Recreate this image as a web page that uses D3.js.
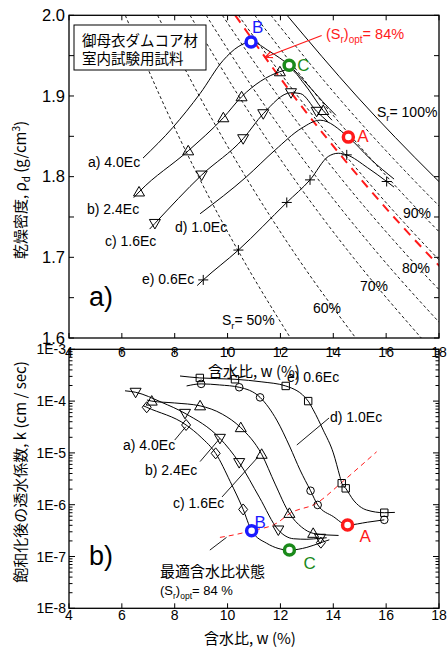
<!DOCTYPE html>
<html><head><meta charset="utf-8">
<script src="https://cdn.jsdelivr.net/npm/d3@7"></script>
<style>
body{margin:0;background:#fff}
text{font-family:"Liberation Sans",Arial,Helvetica,sans-serif;fill:#000}
.jp{font-family:"Noto Sans CJK JP","Liberation Sans",sans-serif}
</style>
</head><body><svg id="c" width="448" height="649"></svg>
<script>
// ---------------- data ----------------
const xTicks = [4, 6, 8, 10, 12, 14, 16, 18];
const rhoTicks = [1.6, 1.7, 1.8, 1.9, 2.0];
const rhoMinorTicks = [1.65, 1.75, 1.85, 1.95];
const kTicks = [1e-8, 1e-7, 1e-6, 1e-5, 1e-4, 1e-3];
const kTickLabels = ["1E-8", "1E-7", "1E-6", "1E-5", "1E-4", "1E-3"];

// degree-of-saturation contour lines: water content (%) read at these dry densities
const srRhoGrid = [2.0, 1.9, 1.8, 1.7, 1.6];
const srLevels = [50, 60, 70, 75, 80, 85, 90, 95];
const srLineW = [
  [6.13, 7.44, 8.90, 10.54, 12.38],
  [7.35, 8.93, 10.68, 12.64, 14.85],
  [8.58, 10.42, 12.46, 14.75, 17.33],
  [9.19, 11.16, 13.35, 15.81, 18.56],
  [9.80, 11.91, 14.24, 16.86, 19.80],
  [10.41, 12.65, 15.14, 17.91, 21.04],
  [11.03, 13.39, 16.03, 18.97, 22.28],
  [11.64, 14.14, 16.92, 20.02, 23.51]
];
const sr100W = [12.25, 14.88, 17.81, 21.07, 24.75];
const srOptW = [10.29, 12.50, 14.96, 17.70, 20.79];
const srLabels = ["90%", "80%", "70%", "60%"];

const curveNames = ["a) 4.0Ec", "b) 2.4Ec", "c) 1.6Ec", "d) 1.0Ec", "e) 0.6Ec"];

// top panel: compaction curves [w %, rho_d]
const topCurveA = [[6.80,1.823],[7.93,1.861],[8.96,1.903],[9.83,1.944],[10.4,1.961],[10.89,1.967],[11.6,1.955],[12.33,1.938],[13.0,1.915],[13.6,1.893],[14.1,1.876]];
const topCurveB = [[6.45,1.774],[6.65,1.781],[8.51,1.832],[9.84,1.873],[10.53,1.899],[11.98,1.930],[12.35,1.933],[12.9,1.915],[13.62,1.882],[13.95,1.870]];
const topCurveC = [[7.05,1.735],[7.25,1.742],[9.02,1.802],[10.59,1.847],[11.35,1.878],[12.40,1.904],[12.75,1.903],[13.37,1.881],[13.8,1.868]];
const topCurveD = [[8.96,1.754],[10.72,1.800],[11.8,1.833],[12.8,1.860],[13.5,1.870],[14.57,1.849],[15.4,1.822],[16.3,1.797]];
const topCurveE = [[8.85,1.665],[9.08,1.672],[10.41,1.709],[12.24,1.768],[13.12,1.796],[13.81,1.825],[14.19,1.829],[14.51,1.827],[15.3,1.811],[16.02,1.794],[16.3,1.787]];
const topMarkUp = [[6.65,1.781],[8.51,1.832],[9.84,1.873],[10.53,1.899],[11.98,1.930],[13.62,1.882]];
const topMarkDown = [[7.25,1.742],[9.02,1.802],[10.59,1.847],[11.35,1.878],[12.40,1.904],[13.37,1.881]];
const topMarkPlus = [[9.08,1.672],[10.41,1.709],[12.24,1.768],[13.12,1.796],[14.51,1.827],[16.02,1.794]];

// bottom panel: permeability after saturation [w %, k cm/sec]
const botCurveA = [[6.8,8.2e-5],[6.94,7.6e-5],[8.43,3.46e-5],[9.0,2.0e-5],[9.55,9.8e-6],[10.1,2.8e-6],[10.59,8.1e-7],[10.91,3.15e-7],[11.48,1.8e-7],[12.34,1.33e-7],[13.0,1.5e-7],[13.53,1.85e-7],[13.85,2.1e-7]];
const botCurveB = [[6.12,1.58e-4],[6.52,1.48e-4],[7.5,9.5e-5],[8.39,5.8e-5],[9.71,1.91e-5],[10.44,6.5e-6],[11.2,1.4e-6],[11.92,3.25e-7],[12.5,2.2e-7],[13.0,2.15e-7],[13.5,2.25e-7],[13.75,2.3e-7]];
const botCurveC = [[6.95,1.05e-4],[7.13,1.0e-4],[8.0,9.2e-5],[8.96,8.1e-5],[9.8,5.6e-5],[10.50,3.07e-5],[11.29,9.4e-6],[11.8,2.5e-6],[12.34,6.8e-7],[12.8,3.7e-7],[13.24,2.8e-7],[13.8,2.6e-7],[14.2,2.55e-7]];
const botCurveD = [[8.45,1.96e-4],[9.0,2.15e-4],[9.7,2.05e-4],[10.44,1.85e-4],[11.23,1.18e-4],[11.86,4.3e-5],[12.36,1.3e-5],[12.74,4.7e-6],[13.14,1.86e-6],[13.41,9.9e-7],[14.0,5.9e-7],[14.54,4.06e-7],[15.3,4.6e-7],[15.93,5.1e-7]];
const botCurveE = [[8.2,3.05e-4],[8.95,2.8e-4],[10.28,2.64e-4],[11.3,2.35e-4],[12.20,1.96e-4],[13.05,1.0e-4],[13.24,6.8e-5],[13.62,2.75e-5],[14.0,1.0e-5],[14.25,3.5e-6],[14.32,2.6e-6],[14.47,2.07e-6],[14.76,1.23e-6],[15.26,7.9e-7],[15.93,7.0e-7],[16.33,7.1e-7]];
const botMarkDiamond = [[6.94,7.6e-5],[8.43,3.46e-5],[9.55,9.8e-6],[10.59,8.1e-7],[13.53,1.85e-7]];
const botMarkDown = [[6.52,1.48e-4],[8.39,5.8e-5],[9.71,1.91e-5],[10.44,6.5e-6],[11.92,3.25e-7],[13.5,2.25e-7]];
const botMarkUp = [[7.13,1.0e-4],[8.96,8.1e-5],[10.50,3.07e-5],[11.29,9.4e-6],[12.34,6.8e-7],[13.24,2.8e-7]];
const botMarkCircle = [[9.0,2.15e-4],[10.44,1.85e-4],[11.23,1.18e-4],[13.14,1.86e-6],[13.41,9.9e-7],[15.93,5.1e-7]];
const botMarkSquare = [[8.95,2.8e-4],[10.28,2.64e-4],[12.20,1.96e-4],[13.05,1.0e-4],[14.32,2.6e-6],[14.47,2.07e-6],[15.93,7.0e-7]];
const botOptLine = [[9.71,2.34e-7],[10.22,2.6e-7],[10.91,3.15e-7],[11.86,4.4e-7],[12.36,6.8e-7],[13.37,1.07e-6],[14.25,2.5e-6],[14.55,3.4e-6],[15.64,1.05e-5]];

// optimum states A, B, C
const stateNames = ["A", "B", "C"];
const stateTopW = [14.57, 10.89, 12.33];
const stateTopRho = [1.849, 1.967, 1.938];
const stateBotW = [14.54, 10.91, 12.34];
const stateBotK = [4.06e-7, 3.15e-7, 1.33e-7];

// leader lines (data coordinates)
const topArrow = [[13.56,1.975],[11.42,1.948]];
const botLeaderA = [[8.0,1.77e-5],[8.42,3.2e-5]];
const botLeaderB = [[8.96,6.8e-6],[9.71,1.91e-5]];
const botLeaderC = [[9.79,1.41e-6],[11.15,8.3e-6]];
const botLeaderD = [[13.84,4.72e-5],[12.62,1.42e-5]];
const botLeaderOpt = [[9.33,1.33e-7],[9.96,2.34e-7]];

// ---------------- drawing ----------------
const svg = d3.select("#c");
const X0 = 69, X1 = 439;
const TT = 15.3, TB = 338, BT = 349.3, BB = 608.3;
const x = d3.scaleLinear().domain([4, 18]).range([X0, X1]);
const yT = d3.scaleLinear().domain([1.6, 2.0]).range([TB, TT]);
const yB = d3.scaleLog().domain([1e-8, 1e-3]).range([BB, BT]);
const colors = {A: "#ff1a1a", B: "#1a1aff", C: "#1a8a1a"};

const defs = svg.append("defs");
defs.append("clipPath").attr("id", "clipT").append("rect")
  .attr("x", X0).attr("y", TT).attr("width", X1 - X0).attr("height", TB - TT);
defs.append("clipPath").attr("id", "clipB").append("rect")
  .attr("x", X0).attr("y", BT).attr("width", X1 - X0).attr("height", BB - BT);
defs.append("marker").attr("id", "arrR").attr("viewBox", "0 0 10 10").attr("refX", 9).attr("refY", 5)
  .attr("markerWidth", 7).attr("markerHeight", 7).attr("orient", "auto")
  .append("path").attr("d", "M0,1 L9,5 L0,9").attr("fill", "none").attr("stroke", "#ff1a1a").attr("stroke-width", 1.4);

const lineT = d3.line().x(d => x(d[0])).y(d => yT(d[1])).curve(d3.curveMonotoneX);
const lineB = d3.line().x(d => x(d[0])).y(d => yB(d[1])).curve(d3.curveMonotoneX);
const straightT = d3.line().x(d => x(d[0])).y(d => yT(d[1]));
const straightB = d3.line().x(d => x(d[0])).y(d => yB(d[1]));

const shapes = {
  up: "M0,-5.5L5.5,4L-5.5,4Z",
  down: "M0,5.5L5.5,-4L-5.5,-4Z",
  diamond: "M0,-5.5L4.5,0L0,5.5L-4.5,0Z",
  square: "M-3.7,-3.7H3.7V3.7H-3.7Z",
  circle: "M3.8,0A3.8,3.8 0 1,1 -3.8,0A3.8,3.8 0 1,1 3.8,0Z",
  plus: "M-5,0H5M0,-5V5"
};
function markers(g, pts, shape, yS) {
  g.selectAll(null).data(pts).enter().append("path")
    .attr("d", shapes[shape])
    .attr("transform", d => `translate(${x(d[0])},${yS(d[1])})`)
    .attr("fill", "none").attr("stroke", "#000").attr("stroke-width", 1);
}

// ===== TOP PANEL =====
const gT = svg.append("g").attr("clip-path", "url(#clipT)");
srLevels.forEach((s, i) => {
  const pts = srLineW[i].map((w, j) => [w, srRhoGrid[j]]);
  gT.append("path").attr("d", lineT(pts)).attr("fill", "none")
    .attr("stroke", "#000").attr("stroke-width", 0.9).attr("stroke-dasharray", "3,2.5");
});
gT.append("path").attr("d", lineT(sr100W.map((w, j) => [w, srRhoGrid[j]])))
  .attr("fill", "none").attr("stroke", "#000").attr("stroke-width", 1);
gT.append("path").attr("d", lineT(srOptW.map((w, j) => [w, srRhoGrid[j]])))
  .attr("fill", "none").attr("stroke", "#ff1a1a").attr("stroke-width", 2).attr("stroke-dasharray", "9,7");

// title box
svg.append("rect").attr("x", 74).attr("y", 25).attr("width", 132).attr("height", 45)
  .attr("fill", "#fff").attr("stroke", "#000").attr("stroke-width", 1);
svg.append("text").attr("class", "jp").attr("x", 82).attr("y", 45.5).attr("font-size", 14.5).text("御母衣ダムコア材");
svg.append("text").attr("class", "jp").attr("x", 82).attr("y", 64).attr("font-size", 14.5).text("室内試験用試料");

[topCurveA, topCurveB, topCurveC, topCurveD, topCurveE].forEach(c => {
  gT.append("path").attr("d", lineT(c)).attr("fill", "none").attr("stroke", "#000").attr("stroke-width", 1);
});
markers(gT, topMarkUp, "up", yT);
markers(gT, topMarkDown, "down", yT);
markers(gT, topMarkPlus, "plus", yT);

// red annotation
svg.append("path").attr("d", straightT(topArrow)).attr("stroke", "#ff1a1a").attr("stroke-width", 1.2)
  .attr("fill", "none").attr("marker-end", "url(#arrR)");
const rt = svg.append("text").attr("x", 326).attr("y", 39).attr("font-size", 14.5).style("fill", "#ff1a1a");
rt.append("tspan").text("(S");
rt.append("tspan").attr("font-size", 10).attr("dy", 4).text("r");
rt.append("tspan").attr("dy", -4).text(")");
rt.append("tspan").attr("font-size", 10).attr("dy", 4).text("opt");
rt.append("tspan").attr("dy", -4).text("= 84%");

// state circles top
const topLabelOff = {A: [9, 5], B: [1, -8.5], C: [8, 6]};
stateNames.forEach((n, i) => {
  const cx = x(stateTopW[i]), cy = yT(stateTopRho[i]);
  svg.append("circle").attr("cx", cx).attr("cy", cy).attr("r", 5)
    .attr("fill", "#fff").attr("stroke", colors[n]).attr("stroke-width", 3.5);
  svg.append("text").attr("x", cx + topLabelOff[n][0]).attr("y", cy + topLabelOff[n][1])
    .attr("font-size", 17).style("fill", colors[n]).text(n);
});

// Sr labels
function srText(xp, yp, pre, val) {
  const t = svg.append("text").attr("x", xp).attr("y", yp).attr("font-size", 14);
  if (pre) {
    t.append("tspan").text("S");
    t.append("tspan").attr("font-size", 9.5).attr("dy", 4).text("r");
    t.append("tspan").attr("dy", -4).text("= " + val);
  } else t.text(val);
}
srText(377, 117, true, "100%");
srText(403, 218, false, srLabels[0]);
srText(402, 273, false, srLabels[1]);
srText(360, 291, false, srLabels[2]);
srText(313, 313, false, srLabels[3]);
srText(222, 325, true, "50%");

// curve labels top
const topNamePos = [[88, 167], [87, 214], [105, 246], [175, 232], [142, 284]];
curveNames.forEach((n, i) => {
  svg.append("text").attr("x", topNamePos[i][0]).attr("y", topNamePos[i][1]).attr("font-size", 14).text(n);
});
svg.append("text").attr("x", 89).attr("y", 306).attr("font-size", 27).text("a)");

// ===== BOTTOM PANEL =====
const gB = svg.append("g").attr("clip-path", "url(#clipB)");
gB.append("path").attr("d", lineB(botOptLine)).attr("fill", "none")
  .attr("stroke", "#ff1a1a").attr("stroke-width", 1).attr("stroke-dasharray", "5,4");
[botCurveA, botCurveB, botCurveC, botCurveD, botCurveE].forEach(c => {
  gB.append("path").attr("d", lineB(c)).attr("fill", "none").attr("stroke", "#000").attr("stroke-width", 1);
});
markers(gB, botMarkDiamond, "diamond", yB);
markers(gB, botMarkDown, "down", yB);
markers(gB, botMarkUp, "up", yB);
markers(gB, botMarkCircle, "circle", yB);
markers(gB, botMarkSquare, "square", yB);
[botLeaderA, botLeaderB, botLeaderC, botLeaderD, botLeaderOpt].forEach(l => {
  svg.append("path").attr("d", straightB(l)).attr("stroke", "#000").attr("stroke-width", 0.9).attr("fill", "none");
});

const botLabelOff = {A: [12, 17], B: [3, -3], C: [14, 19]};
stateNames.forEach((n, i) => {
  const cx = x(stateBotW[i]), cy = yB(stateBotK[i]);
  svg.append("circle").attr("cx", cx).attr("cy", cy).attr("r", 5)
    .attr("fill", "#fff").attr("stroke", colors[n]).attr("stroke-width", 3.5);
  svg.append("text").attr("x", cx + botLabelOff[n][0]).attr("y", cy + botLabelOff[n][1])
    .attr("font-size", 17).style("fill", colors[n]).text(n);
});

const botNamePos = [[123, 450], [145, 475], [173, 508], [330, 422], [287, 382]];
curveNames.forEach((n, i) => {
  svg.append("text").attr("x", botNamePos[i][0]).attr("y", botNamePos[i][1]).attr("font-size", 14).text(n);
});
svg.append("text").attr("x", 89).attr("y", 565).attr("font-size", 27).text("b)");
svg.append("text").attr("class", "jp").attr("x", 160).attr("y", 577).attr("font-size", 15).text("最適含水比状態");
const ot = svg.append("text").attr("x", 160).attr("y", 595).attr("font-size", 13);
ot.append("tspan").text("(S");
ot.append("tspan").attr("font-size", 8.5).attr("dy", 3.5).text("r");
ot.append("tspan").attr("dy", -3.5).text(")");
ot.append("tspan").attr("font-size", 8.5).attr("dy", 3.5).text("opt");
ot.append("tspan").attr("dy", -3.5).text("= 84 %");

// ===== AXES / FRAMES =====
const ax = svg.append("g").attr("stroke", "#000").attr("stroke-width", 1);
// top panel frame and ticks
svg.append("rect").attr("x", X0).attr("y", TT).attr("width", X1 - X0).attr("height", TB - TT)
  .attr("fill", "none").attr("stroke", "#000").attr("stroke-width", 1.3);
xTicks.forEach(t => {
  ax.append("line").attr("x1", x(t)).attr("x2", x(t)).attr("y1", TB).attr("y2", TB - 5);
  ax.append("line").attr("x1", x(t)).attr("x2", x(t)).attr("y1", TT).attr("y2", TT + 5);
  svg.append("text").attr("x", x(t)).attr("y", 357).attr("text-anchor", "middle").attr("font-size", 14).text(t);
});
rhoTicks.concat(rhoMinorTicks).forEach(t => {
  ax.append("line").attr("x1", X0).attr("x2", X0 + 5).attr("y1", yT(t)).attr("y2", yT(t));
  ax.append("line").attr("x1", X1).attr("x2", X1 - 5).attr("y1", yT(t)).attr("y2", yT(t));
});
rhoTicks.forEach(t => {
  svg.append("text").attr("x", 65).attr("y", yT(t) + 5.8).attr("text-anchor", "end").attr("font-size", 16.5).text(t.toFixed(1));
});
// bottom panel frame and ticks
svg.append("rect").attr("x", X0).attr("y", BT).attr("width", X1 - X0).attr("height", BB - BT)
  .attr("fill", "none").attr("stroke", "#000").attr("stroke-width", 1.3);
xTicks.forEach(t => {
  ax.append("line").attr("x1", x(t)).attr("x2", x(t)).attr("y1", BB).attr("y2", BB - 5);
  ax.append("line").attr("x1", x(t)).attr("x2", x(t)).attr("y1", BT).attr("y2", BT + 5);
  svg.append("text").attr("x", x(t)).attr("y", 620).attr("text-anchor", "middle").attr("font-size", 14).text(t);
});
kTicks.forEach((t, i) => {
  if (i < kTicks.length - 1) {
    for (let m = 2; m <= 9; m++) {
      const v = t * m;
      ax.append("line").attr("x1", X0).attr("x2", X0 + 3.5).attr("y1", yB(v)).attr("y2", yB(v));
      ax.append("line").attr("x1", X1).attr("x2", X1 - 3.5).attr("y1", yB(v)).attr("y2", yB(v));
    }
  }
  ax.append("line").attr("x1", X0).attr("x2", X0 + 6).attr("y1", yB(t)).attr("y2", yB(t));
  ax.append("line").attr("x1", X1).attr("x2", X1 - 6).attr("y1", yB(t)).attr("y2", yB(t));
  svg.append("text").attr("x", 66).attr("y", yB(t) + 5).attr("text-anchor", "end").attr("font-size", 14).text(kTickLabels[i]);
});

// axis titles
const ty = svg.append("text").attr("class", "jp").attr("font-size", 15).attr("text-anchor", "middle")
  .attr("transform", "translate(26,190) rotate(-90)");
ty.append("tspan").text("乾燥密度, ρ");
ty.append("tspan").attr("font-size", 10).attr("dy", 4).text("d");
ty.append("tspan").attr("dy", -4).text(" (g/cm");
ty.append("tspan").attr("font-size", 10).attr("dy", -6).text("3");
ty.append("tspan").attr("dy", 6).text(")");
svg.append("text").attr("class", "jp").attr("font-size", 15).attr("text-anchor", "middle")
  .attr("transform", "translate(26,472) rotate(-90)").text("飽和化後の透水係数, k (cm / sec)");
svg.append("text").attr("class", "jp").attr("font-size", 15).attr("text-anchor", "middle")
  .attr("x", 254).attr("y", 377).text("含水比, w (%)");
svg.append("text").attr("class", "jp").attr("font-size", 15).attr("text-anchor", "middle")
  .attr("x", 250).attr("y", 644).text("含水比, w (%)");
</script>
</body></html>
